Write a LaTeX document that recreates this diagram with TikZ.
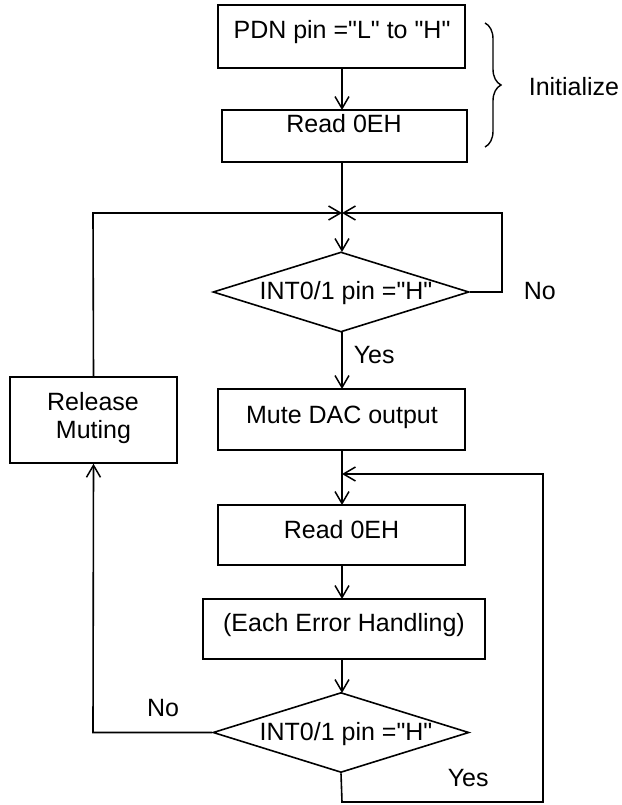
\documentclass[tikz,border=0pt]{standalone}
\usepackage{fontspec}
\setmainfont{Liberation Sans}[Ligatures=TeXOff]
\usetikzlibrary{shapes.geometric,arrows.meta,decorations.pathreplacing}
\begin{document}
\begin{tikzpicture}[x=1pt,y=-1pt,
  line width=1.6pt,
  every node/.style={font=\fontsize{25}{29}\selectfont},
  procbox/.style={draw,rectangle,inner sep=0pt,line width=1.6pt},
  decbox/.style={draw,diamond,inner sep=0pt,line width=1.6pt},
  lbl/.style={anchor=base,inner sep=0pt},
  flow/.style={-{Straight Barb[length=12pt,width=14pt,line width=1.5pt]}},
]
\useasboundingbox (0,0) rectangle (621,805);

% boxes
\node[procbox,minimum width=247pt,minimum height=63pt] (b1) at (341.5,36.5) {};
\node[lbl] (t1) at (342,39) {PDN pin ="L" to "H"};
\node[procbox,minimum width=245pt,minimum height=52pt] (b2) at (344.5,136) {};
\node[lbl] (t2) at (344,133) {Read 0EH};
\node[decbox,minimum width=256pt,minimum height=80pt] (d1) at (341,292) {};
\node[lbl] (t3) at (346,299) {INT0/1 pin ="H"};
\node[procbox,minimum width=247pt,minimum height=61pt] (b3) at (341.5,419.5) {};
\node[lbl] (t4) at (342,423) {Mute DAC output};
\node[procbox,minimum width=167pt,minimum height=86pt] (rm) at (93.5,420) {};
\node[lbl] (t5) at (93,410) {Release};
\node[lbl] (t6) at (93.5,438) {Muting};
\node[procbox,minimum width=247pt,minimum height=60pt] (b4) at (341.5,535) {};
\node[lbl] (t7) at (341.5,538) {Read 0EH};
\node[procbox,minimum width=282pt,minimum height=60pt] (b5) at (344,629) {};
\node[lbl] (t8) at (344,631) {(Each Error Handling)};
\node[decbox,minimum width=256pt,minimum height=80pt] (d2) at (341,732.5) {};
\node[lbl] (t9) at (346,740) {INT0/1 pin ="H"};

% labels
\node[lbl,anchor=base west] (no1) at (523,299) {No};
\node[lbl,anchor=base west] (yes1) at (353,363) {Yes};
\node[lbl] (no2) at (163,716) {No};
\node[lbl,anchor=base west] (yes2) at (447,786) {Yes};
\node[lbl,anchor=base west] (init) at (528,96) {Initialize};

% junction points
\coordinate (j1) at (342,213);
\coordinate (j2) at (342,474);

% connectors
\draw[flow] (342,68) -- (342,110);
\draw[flow] (342,162) -- (342,252);
\draw[flow] (d1.east) -- (502,292) -- (502,213) -- (j1);
\draw[flow] (rm.north) -- (93,213) -- (j1);
\draw[flow] (342,332) -- (342,389);
\draw[flow] (342,450) -- (342,505);
\draw[flow] (342,565) -- (342,599);
\draw[flow] (342,659) -- (342,693);
\draw[flow] (d2.west) -- (93,732.5) -- (rm.south);
\draw[flow] (d2.south) -- (342,802) -- (543,802) -- (543,474) -- (j2);

% brace
\draw[line width=1.4pt,decorate,decoration={brace,amplitude=16pt}] (485,23) -- (485,147);
\end{tikzpicture}
\end{document}
